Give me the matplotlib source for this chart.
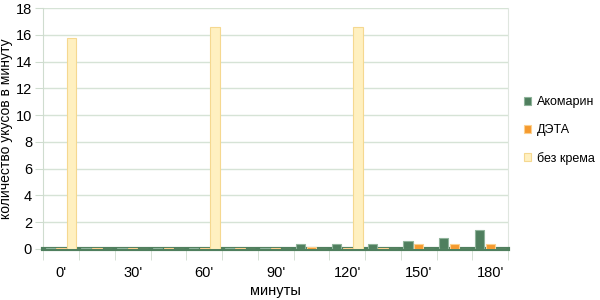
import numpy as np
import matplotlib
matplotlib.use("Agg")
import matplotlib.pyplot as plt

plt.rcParams['font.family'] = ['Liberation Sans', 'DejaVu Sans']

# ------------------------------------------------------------
# DATA
# ------------------------------------------------------------
tick_labels = ["0'", "", "30'", "", "60'", "", "90'", "", "120'", "", "150'", "", "180'"]
akomarin = [0.05, 0.05, 0.05, 0.05, 0.05, 0.05, 0.1, 0.4, 0.35, 0.4, 0.6, 0.8, 1.4]
deta = [0.05, 0.05, 0.05, 0.05, 0.05, 0.05, 0.05, 0.15, 0.1, 0.1, 0.4, 0.4, 0.4]
bez_krema = [15.8, 0, 0, 0, 16.6, 0, 0, 0, 16.6, 0, 0, 0, 0]

series = [
    ("Акомарин", akomarin, "#4f7f5e", "#8fb39a"),
    ("ДЭТА", deta, "#f59a2e", "#fcd08e"),
    ("без крема", bez_krema, "#fff0c0", "#f5d890"),
]

# ------------------------------------------------------------
# PLOT
# ------------------------------------------------------------
fig = plt.figure(figsize=(6, 3), dpi=100)
ax = fig.add_axes([0.072, 0.17, 0.775, 0.803])

x = np.arange(len(tick_labels))
offsets = [-0.3, 0.0, 0.3]
width = 0.26

for (name, vals, color, edge), off in zip(series, offsets):
    ax.bar(x + off, vals, width=width, color=color, edgecolor=edge,
           linewidth=0.8, label=name, zorder=3)

ax.set_xlim(-0.5, len(tick_labels) - 0.5)
ax.set_ylim(0, 18)
ax.set_yticks(np.arange(0, 19, 2))
ax.yaxis.grid(True, color="#d6e3d6", linewidth=1, zorder=0)

ax.set_xticks(x)
ax.set_xticklabels(tick_labels, fontsize=10.5)
ax.set_xticks(np.arange(-0.5, len(tick_labels), 1), minor=True)
ax.tick_params(axis="x", which="major", length=0, pad=12)
ax.tick_params(axis="x", which="minor", length=8, color="#cfdccf")
ax.tick_params(axis="y", length=6, color="#cfdccf", labelsize=10.5, pad=2)

ax.spines["top"].set_visible(False)
ax.spines["left"].set_color("#cfdccf")
ax.spines["right"].set_color("#dfe6df")
ax.spines["bottom"].set_color("#4f7f5e")
ax.spines["bottom"].set_linewidth(3)

ax.set_ylabel("количество укусов в минуту", fontsize=10, labelpad=2)
ax.set_xlabel("минуты", fontsize=10.5, labelpad=3)

fig.legend(loc="center left", bbox_to_anchor=(0.858, 0.565), frameon=False,
           fontsize=9, handlelength=0.6, handleheight=0.6, labelspacing=1.25,
           handletextpad=0.5, borderpad=0.2)

plt.savefig("out.png", dpi=100)
